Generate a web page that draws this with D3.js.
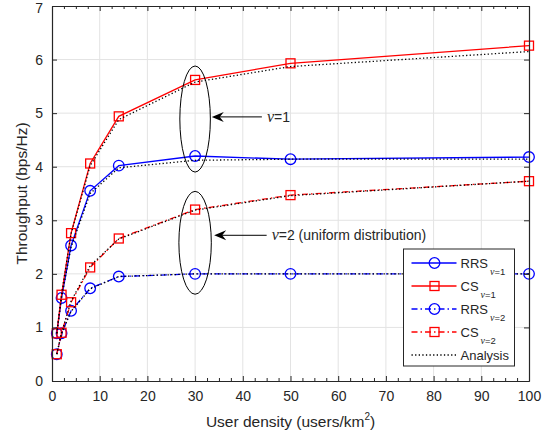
<!DOCTYPE html>
<html><head><meta charset="utf-8">
<script src="https://cdn.jsdelivr.net/npm/d3@7"></script>
<style>
body{margin:0;background:#fff;}
text{font-family:"Liberation Sans",Arial,sans-serif;fill:#262626;}
</style></head>
<body><svg id="c" width="550" height="436"></svg>
<script>
const density = [1, 2, 4, 8, 14, 30, 50, 100];
const rrsNu1 = [0.89, 1.55, 2.53, 3.55, 4.02, 4.20, 4.14, 4.18];
const csNu1  = [0.89, 1.61, 2.76, 4.06, 4.94, 5.62, 5.93, 6.26];
const rrsNu2 = [0.50, 0.89, 1.31, 1.73, 1.95, 2.00, 2.00, 2.00];
const csNu2  = [0.50, 0.90, 1.47, 2.12, 2.66, 3.20, 3.47, 3.73];
const anaRrsNu1 = [0.89, 1.55, 2.50, 3.50, 3.98, 4.12, 4.14, 4.14];
const anaCsNu1  = [0.89, 1.62, 2.75, 4.02, 4.88, 5.58, 5.87, 6.15];
const anaRrsNu2 = [0.50, 0.88, 1.30, 1.72, 1.95, 2.00, 2.00, 2.00];
const anaCsNu2  = [0.50, 0.90, 1.49, 2.15, 2.65, 3.19, 3.46, 3.73];
const xTicks = [0,10,20,30,40,50,60,70,80,90,100];
const yTicks = [0,1,2,3,4,5,6,7];
const legendLabels = ["RRS","CS","RRS","CS","Analysis"];
const legendSubs = ["=1","=1","=2","=2",""];

const svg = d3.select("#c");
const L=52, T=6, W=477, H=375;
const x = d3.scaleLinear().domain([0,100]).range([L, L+W]);
const y = d3.scaleLinear().domain([0,7]).range([T+H, T]);
const axisCol = "#262626";
const g = svg.append("g");

// grid
g.selectAll(".gx").data(xTicks.slice(1,-1)).join("line")
  .attr("x1",d=>x(d)).attr("x2",d=>x(d)).attr("y1",T).attr("y2",T+H)
  .attr("stroke","#e3e3e3").attr("stroke-width",1);
g.selectAll(".gy").data(yTicks.slice(1,-1)).join("line")
  .attr("y1",d=>y(d)).attr("y2",d=>y(d)).attr("x1",L).attr("x2",L+W)
  .attr("stroke","#e3e3e3").attr("stroke-width",1);

// axes
const minor = d3.range(0,100.01,2.5).filter(v=>v%10!==0);
const xb = svg.append("g").attr("transform",`translate(0,${T+H})`)
  .call(d3.axisBottom(x).tickValues(xTicks).tickSizeInner(-5).tickSizeOuter(0).tickPadding(10).tickFormat(d3.format("d")));
const xt = svg.append("g").attr("transform",`translate(0,${T})`)
  .call(d3.axisTop(x).tickValues(xTicks).tickSizeInner(-5).tickSizeOuter(0).tickFormat(""));
const xbm = svg.append("g").attr("transform",`translate(0,${T+H})`)
  .call(d3.axisBottom(x).tickValues(minor).tickSizeInner(-3).tickSizeOuter(0).tickFormat(""));
const xtm = svg.append("g").attr("transform",`translate(0,${T})`)
  .call(d3.axisTop(x).tickValues(minor).tickSizeInner(-3).tickSizeOuter(0).tickFormat(""));
const yl = svg.append("g").attr("transform",`translate(${L},0)`)
  .call(d3.axisLeft(y).tickValues(yTicks).tickSizeInner(-5).tickSizeOuter(0).tickPadding(9).tickFormat(d3.format("d")));
const yr = svg.append("g").attr("transform",`translate(${L+W},0)`)
  .call(d3.axisRight(y).tickValues(yTicks).tickSizeInner(-5).tickSizeOuter(0).tickFormat(""));
[xb,xt,xbm,xtm,yl,yr].forEach(a=>{
  a.selectAll("path").attr("stroke",axisCol).attr("stroke-width",1.2);
  a.selectAll("line").attr("stroke",axisCol);
  a.selectAll("text").attr("font-size",14).attr("font-family","Liberation Sans,Arial,sans-serif").attr("fill",axisCol);
});
yl.selectAll(".tick text").filter(d=>d===7).attr("dy","0.45em");

// axis labels
const xlab = svg.append("text").attr("x",x(50)).attr("y",427).attr("text-anchor","middle").attr("font-size",15.5);
xlab.append("tspan").text("User density (users/km");
xlab.append("tspan").text("2").attr("font-size",10).attr("dy",-7);
xlab.append("tspan").text(")").attr("dy",7);
svg.append("text").attr("transform",`translate(27,${y(3.5)}) rotate(-90)`).attr("text-anchor","middle")
  .attr("font-size",15.5).text("Throughput (bps/Hz)");

// series
const line = d3.line().x((d,i)=>x(density[i])).y(d=>y(d));
const series = [
  {v:rrsNu1, c:"#0000ff", dash:null, m:"o"},
  {v:csNu1, c:"#ff0000", dash:null, m:"s"},
  {v:rrsNu2, c:"#0000ff", dash:"6,3,1.5,3", m:"o"},
  {v:csNu2, c:"#ff0000", dash:"6,3,1.5,3", m:"s"},
];
const analysis = [anaRrsNu1, anaCsNu1, anaRrsNu2, anaCsNu2];
function marker(sel, m, c, px, py){
  if(m==="o") sel.append("circle").attr("cx",px).attr("cy",py).attr("r",5.3)
     .attr("fill","none").attr("stroke",c).attr("stroke-width",1.3);
  else if(m==="s") sel.append("rect").attr("x",px-4.5).attr("y",py-4.5).attr("width",9).attr("height",9)
     .attr("fill","none").attr("stroke",c).attr("stroke-width",1.3);
}
series.forEach(s=>{
  g.append("path").attr("d",line(s.v)).attr("fill","none").attr("stroke",s.c).attr("stroke-width",1.3)
    .attr("stroke-dasharray",s.dash);
  s.v.forEach((v,i)=>marker(g,s.m,s.c,x(density[i]),y(v)));
});
analysis.forEach(a=>{
  g.append("path").attr("d",line(a)).attr("fill","none").attr("stroke","#000").attr("stroke-width",1.3)
    .attr("stroke-dasharray","1.3,2.3");
});

// annotations: ellipses
const ellipses = [{cx:30, cy:4.89, rx:3.2, ry:0.99},{cx:30, cy:2.58, rx:3.4, ry:0.96}];
ellipses.forEach(e=>{
  g.append("ellipse").attr("cx",x(e.cx)).attr("cy",y(e.cy))
   .attr("rx",x(e.rx)-x(0)).attr("ry",y(0)-y(e.ry))
   .attr("fill","none").attr("stroke","#000").attr("stroke-width",1);
});
// arrows
const arrows = [{x1:44, x2:33.5, yv:4.93, label:"1", extra:""},{x1:45, x2:34, yv:2.72, label:"2", extra:" (uniform distribution)"}];
arrows.forEach(a=>{
  const X1=x(a.x1), X2=x(a.x2), Y=y(a.yv);
  g.append("line").attr("x1",X1).attr("x2",X2+6).attr("y1",Y).attr("y2",Y).attr("stroke","#000").attr("stroke-width",1);
  g.append("path").attr("d",`M${X2},${Y} L${X2+12},${Y-5} L${X2+8},${Y} L${X2+12},${Y+5} Z`).attr("fill","#000");
  const t = g.append("text").attr("x",X1+5).attr("y",Y+5).attr("font-size",14);
  t.append("tspan").text("ν").attr("font-family","Liberation Serif,serif").attr("font-style","italic").attr("font-size",16);
  t.append("tspan").text("="+a.label+a.extra);
});

// legend
const lg = svg.append("g");
const LX=403.5, LY=249, LW=111, LH=117;
lg.append("rect").attr("x",LX).attr("y",LY).attr("width",LW).attr("height",LH).attr("fill","#fff")
  .attr("stroke","#262626").attr("stroke-width",1);
const legItems = [...series.map(s=>({c:s.c,dash:s.dash,m:s.m})), {c:"#000",dash:"1.3,2.3",m:null}];
legItems.forEach((it,i)=>{
  const yy = LY+14+i*23;
  lg.append("line").attr("x1",LX+8).attr("x2",LX+53).attr("y1",yy).attr("y2",yy).attr("stroke",it.c)
    .attr("stroke-width",1.3).attr("stroke-dasharray",it.dash);
  if(it.m) marker(lg,it.m,it.c,LX+31,yy);
  const t = lg.append("text").attr("x",LX+57).attr("y",yy+5).attr("font-size",13);
  t.append("tspan").text(legendLabels[i]);
  if(legendSubs[i]){
    t.append("tspan").text("ν").attr("font-family","Liberation Serif,serif").attr("font-style","italic")
      .attr("font-size",10).attr("dy",7).attr("dx",2);
    t.append("tspan").text(legendSubs[i]).attr("font-size",9.5);
  }
});
</script></body></html>
